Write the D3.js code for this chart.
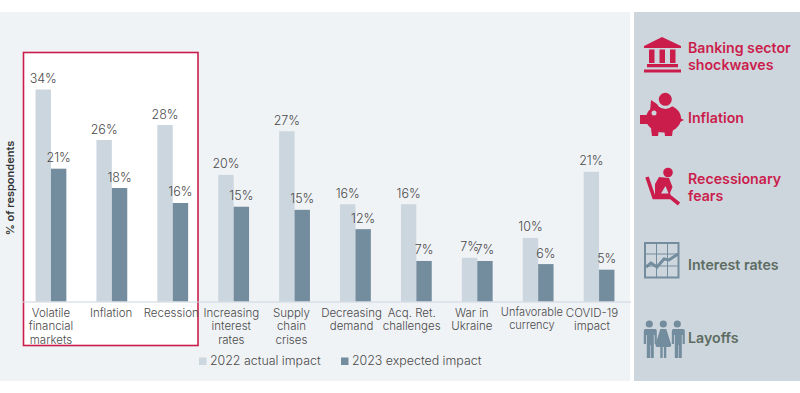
<!DOCTYPE html>
<html><head><meta charset="utf-8">
<script src="https://cdn.jsdelivr.net/npm/d3@7"></script>
<style>
html,body{margin:0;padding:0;background:#fff}
svg{display:block}
text{font-family:Inter,"Liberation Sans",sans-serif}
</style></head><body>
<svg id="c" width="800" height="393"></svg>
<script>
const categories=[["Volatile","financial","markets"],["Inflation"],["Recession"],["Increasing","interest","rates"],["Supply","chain","crises"],["Decreasing","demand"],["Acq. Ret.","challenges"],["War in","Ukraine"],["Unfavorable","currency"],["COVID-19","impact"]];
const actual2022=[34,25.9,28.3,20.3,27.3,15.6,15.6,7,10.2,20.8];
const expected2023=[21.3,18.2,15.8,15.2,14.7,11.6,6.5,6.5,6,5.1];
const seriesNames=["2022 actual impact","2023 expected impact"];
const sideLabels=[["Banking sector","shockwaves"],["Inflation"],["Recessionary","fears"],["Interest rates"],["Layoffs"]];

const LIGHT="#cbd6de",DARK="#748d9e",RED="#cb1d4c",GREY="#5d6c62",TXT="#4a4a4a",BG="#f0f3f6",PANEL="#cdd6dd";
const svg=d3.select("#c");
svg.append("rect").attr("x",0).attr("y",12).attr("width",630).attr("height",369).attr("fill",BG);
svg.append("rect").attr("x",634).attr("y",12).attr("width",166).attr("height",369).attr("fill",PANEL);
svg.append("rect").attr("x",23.5).attr("y",52.5).attr("width",174.5).attr("height",293).attr("fill","#fff").attr("stroke",RED).attr("stroke-width",1.6);

const x=d3.scaleBand().domain(d3.range(categories.length)).range([20.5,629.5]);
const y=d3.scaleLinear().domain([0,34]).range([301.5,89.5]);
const bw=15.4;
const g=svg.append("g");
function bars(vals,color,off){
  g.selectAll(null).data(vals).join("rect")
   .attr("x",(d,i)=>x(i)+x.bandwidth()/2+off)
   .attr("y",d=>y(d)).attr("width",bw).attr("height",d=>y(0)-y(d)).attr("fill",color);
  g.selectAll(null).data(vals).join("text")
   .attr("x",(d,i)=>x(i)+x.bandwidth()/2+off+bw/2)
   .attr("y",d=>y(d)-6.5).attr("text-anchor","middle")
   .attr("font-size",12.5).attr("font-weight",300).attr("fill",TXT).text(d=>Math.round(d)+"%");
}
bars(actual2022,LIGHT,-bw);
bars(expected2023,DARK,0);

const axisG=svg.append("g").attr("transform","translate(1,301.5)");
axisG.call(d3.axisBottom(x).tickSize(0).tickFormat(""));
axisG.select(".domain").attr("stroke",LIGHT).attr("stroke-width",1.2);
const labelX=d3.scalePoint().domain(d3.range(categories.length)).range([51,592]);
const lab=svg.append("g");
categories.forEach((lines,i)=>{
  const t=lab.append("text").attr("text-anchor","middle").attr("font-size",i===8?11:11.5).attr("font-weight",300).attr("fill",TXT);
  lines.forEach((s,k)=>t.append("tspan").attr("x",labelX(i)).attr("y",(i===8?316:317)+k*(i===8?12.5:13.4)).text(s));
});

svg.append("text").attr("transform","translate(14,188) rotate(-90)").attr("text-anchor","middle")
 .attr("font-size",11).attr("font-weight",600).attr("fill","#333").text("% of respondents");

const lg=svg.append("g");
[[199,LIGHT,210],[341,DARK,352]].forEach((l,i)=>{
  lg.append("rect").attr("x",l[0]).attr("y",357.5).attr("width",7.5).attr("height",7.5).attr("fill",l[1]);
  lg.append("text").attr("x",l[2]).attr("y",365).attr("font-size",12.4).attr("font-weight",300).attr("fill",TXT).text(seriesNames[i]);
});

const side=svg.append("g");
[[688,52.5,RED],[688,123,RED],[688,184,RED],[688,270,GREY],[688,343,GREY]].forEach((p,i)=>{
  const t=side.append("text").attr("font-size",14.2).attr("font-weight",600).attr("fill",p[2]);
  sideLabels[i].forEach((s,k)=>t.append("tspan").attr("x",p[0]).attr("y",p[1]+k*17).text(s));
});

const ic=svg.append("g");
ic.append("path").attr("fill",RED).attr("d",
 "M644 46 L662 37 L681 46 L681 48 L644 48 Z M649 49.5h5.5v13.5h-5.5z M659.5 49.5h5.5v13.5h-5.5z M670 49.5h5.5v13.5h-5.5z M647 64h31v3.2h-31z M644 69.5h37v3h-37z");
// piggy
ic.append("ellipse").attr("cx",663.5).attr("cy",118.5).attr("rx",17.5).attr("ry",14).attr("fill",RED);
ic.append("path").attr("fill",RED).attr("d",
 "M640 115 h8 v9 h-8 Z M651 100 L660 106 L650 112 Z M651 129 h8 l-1 7 h-6 Z M664 129 h9 l-1 7 h-7 Z M680 118 l4 2 -4 2 Z");
ic.append("circle").attr("cx",665.3).attr("cy",99.5).attr("r",9.5).attr("fill",PANEL);
ic.append("circle").attr("cx",665.3).attr("cy",99.3).attr("r",6.5).attr("fill",RED);
ic.append("circle").attr("cx",654).attr("cy",113).attr("r",2.5).attr("fill",PANEL);
// person on chair
ic.append("circle").attr("cx",668).attr("cy",172.5).attr("r",4.8).attr("fill",RED);
ic.append("path").attr("fill",RED).attr("d",
 "M659 177 L669 178 L672.5 187 L670 193 L672 198 L655 198 L655 184 Z");
ic.append("path").attr("stroke",RED).attr("stroke-width",3.6).attr("fill","none").attr("d","M647 177 L654 197.5 L671 197.5 L679 204");
ic.append("path").attr("fill",PANEL).attr("d","M665.5 186 L668.5 193.5 L661 193.5 Z");
// interest
const ig=ic.append("g").attr("stroke",DARK).attr("fill","none");
ig.append("rect").attr("x",645).attr("y",243).attr("width",33.5).attr("height",34.5).attr("stroke-width",2);
ig.append("path").attr("stroke-width",1).attr("d","M656.5 243v34 M667.5 243v34 M645 254h33 M645 266h33");
ig.append("path").attr("stroke-width",3).attr("d","M646 267 L651 263 L657 267 L664 259 L669 260 L678 254");
// people
const ppl=ic.append("g").attr("fill",DARK);
[[649.3,0],[663.3,1],[677.3,0]].forEach(p=>{
  const c=p[0];
  ppl.append("circle").attr("cx",c).attr("cy",324).attr("r",3.6);
  const d=p[1]
   ? `M${c-3} 329 h6 L${c+8} 345 L${c+7} 347 h-4 v11 h-2.4 v-11 h-1.2 v11 h-2.4 v-11 h-4 L${c-8} 345 Z`
   : `M${c-6} 329 h12 q1.5 0 1.5 2 v13 h-2.2 v-9 h-0.8 v23 h-3.2 v-13 h-0.6 v13 h-3.2 v-23 h-0.8 v9 h-2.2 v-13 q0 -2 1.5 -2 Z`;
  ppl.append("path").attr("d",d);
});
</script></body></html>
